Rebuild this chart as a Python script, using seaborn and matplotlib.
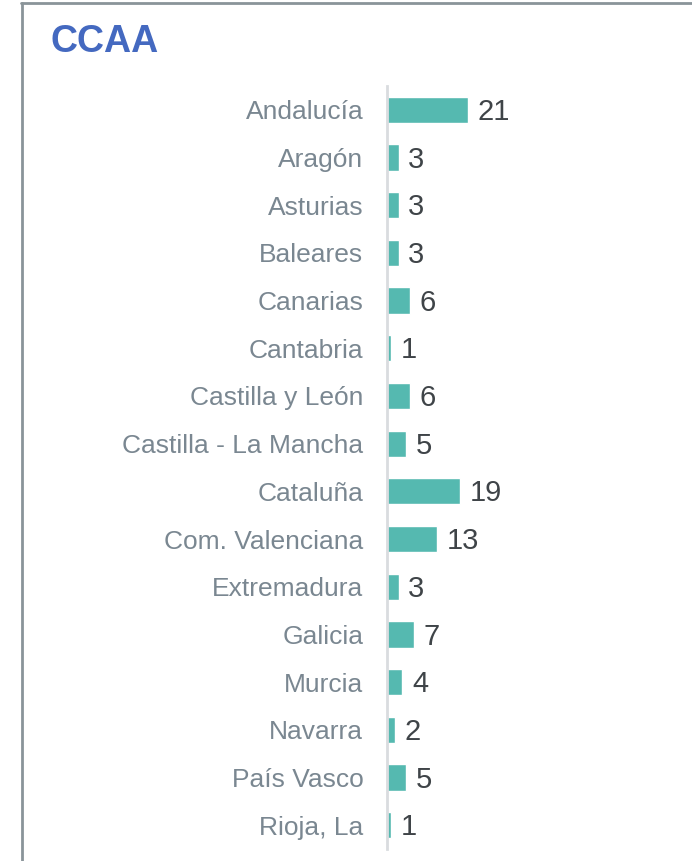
import pandas as pd
import seaborn as sns
import matplotlib.pyplot as plt
from matplotlib.lines import Line2D

# Data
regions = ['Andalucía', 'Aragón', 'Asturias', 'Baleares', 'Canarias', 'Cantabria',
           'Castilla y León', 'Castilla - La Mancha', 'Cataluña', 'Com. Valenciana',
           'Extremadura', 'Galicia', 'Murcia', 'Navarra', 'País Vasco', 'Rioja, La']
counts = [21, 3, 3, 3, 6, 1, 6, 5, 19, 13, 3, 7, 4, 2, 5, 1]

df = pd.DataFrame({'region': regions, 'count': counts})

sns.set_style('white')
plt.rcParams['font.family'] = ['Liberation Sans', 'DejaVu Sans']

fig = plt.figure(figsize=(6.92, 8.61), dpi=100)
ax = fig.add_axes([0.5592, 0.0139, 0.424, 0.8862])

sns.barplot(data=df, x='count', y='region', color='#55B9B0', width=0.55,
            saturation=1, ax=ax)

ax.set_xlim(0, 76)
ax.set_ylim(15.5, -0.5)
ax.set_xlabel('')
ax.set_ylabel('')
ax.set_xticks([])
ax.tick_params(axis='y', length=0, pad=17, labelsize=19, labelcolor='#7A8791')

for side in ['top', 'right', 'bottom']:
    ax.spines[side].set_visible(False)
ax.spines['left'].set_color('#D9DCDF')
ax.spines['left'].set_linewidth(2)

# value labels
for i, v in enumerate(counts):
    ax.annotate(str(v), xy=(v, i), xytext=(7, -1.5), textcoords='offset points',
                va='center', ha='left', fontsize=21, color='#3F4448')

# title
fig.text(50 / 692, 1 - 42 / 861, 'CCAA', fontsize=27, fontweight='bold',
         color='#4469C0', va='center', ha='left')

# frame (left and top edges of the card)
fig.add_artist(Line2D([21.5 / 692, 21.5 / 692], [0, 1 - 3.3 / 861],
                      transform=fig.transFigure, color='#8A9499', lw=2))
fig.add_artist(Line2D([20.5 / 692, 1], [1 - 3.3 / 861, 1 - 3.3 / 861],
                      transform=fig.transFigure, color='#8A9499', lw=2))

plt.savefig('out.png', dpi=100)
